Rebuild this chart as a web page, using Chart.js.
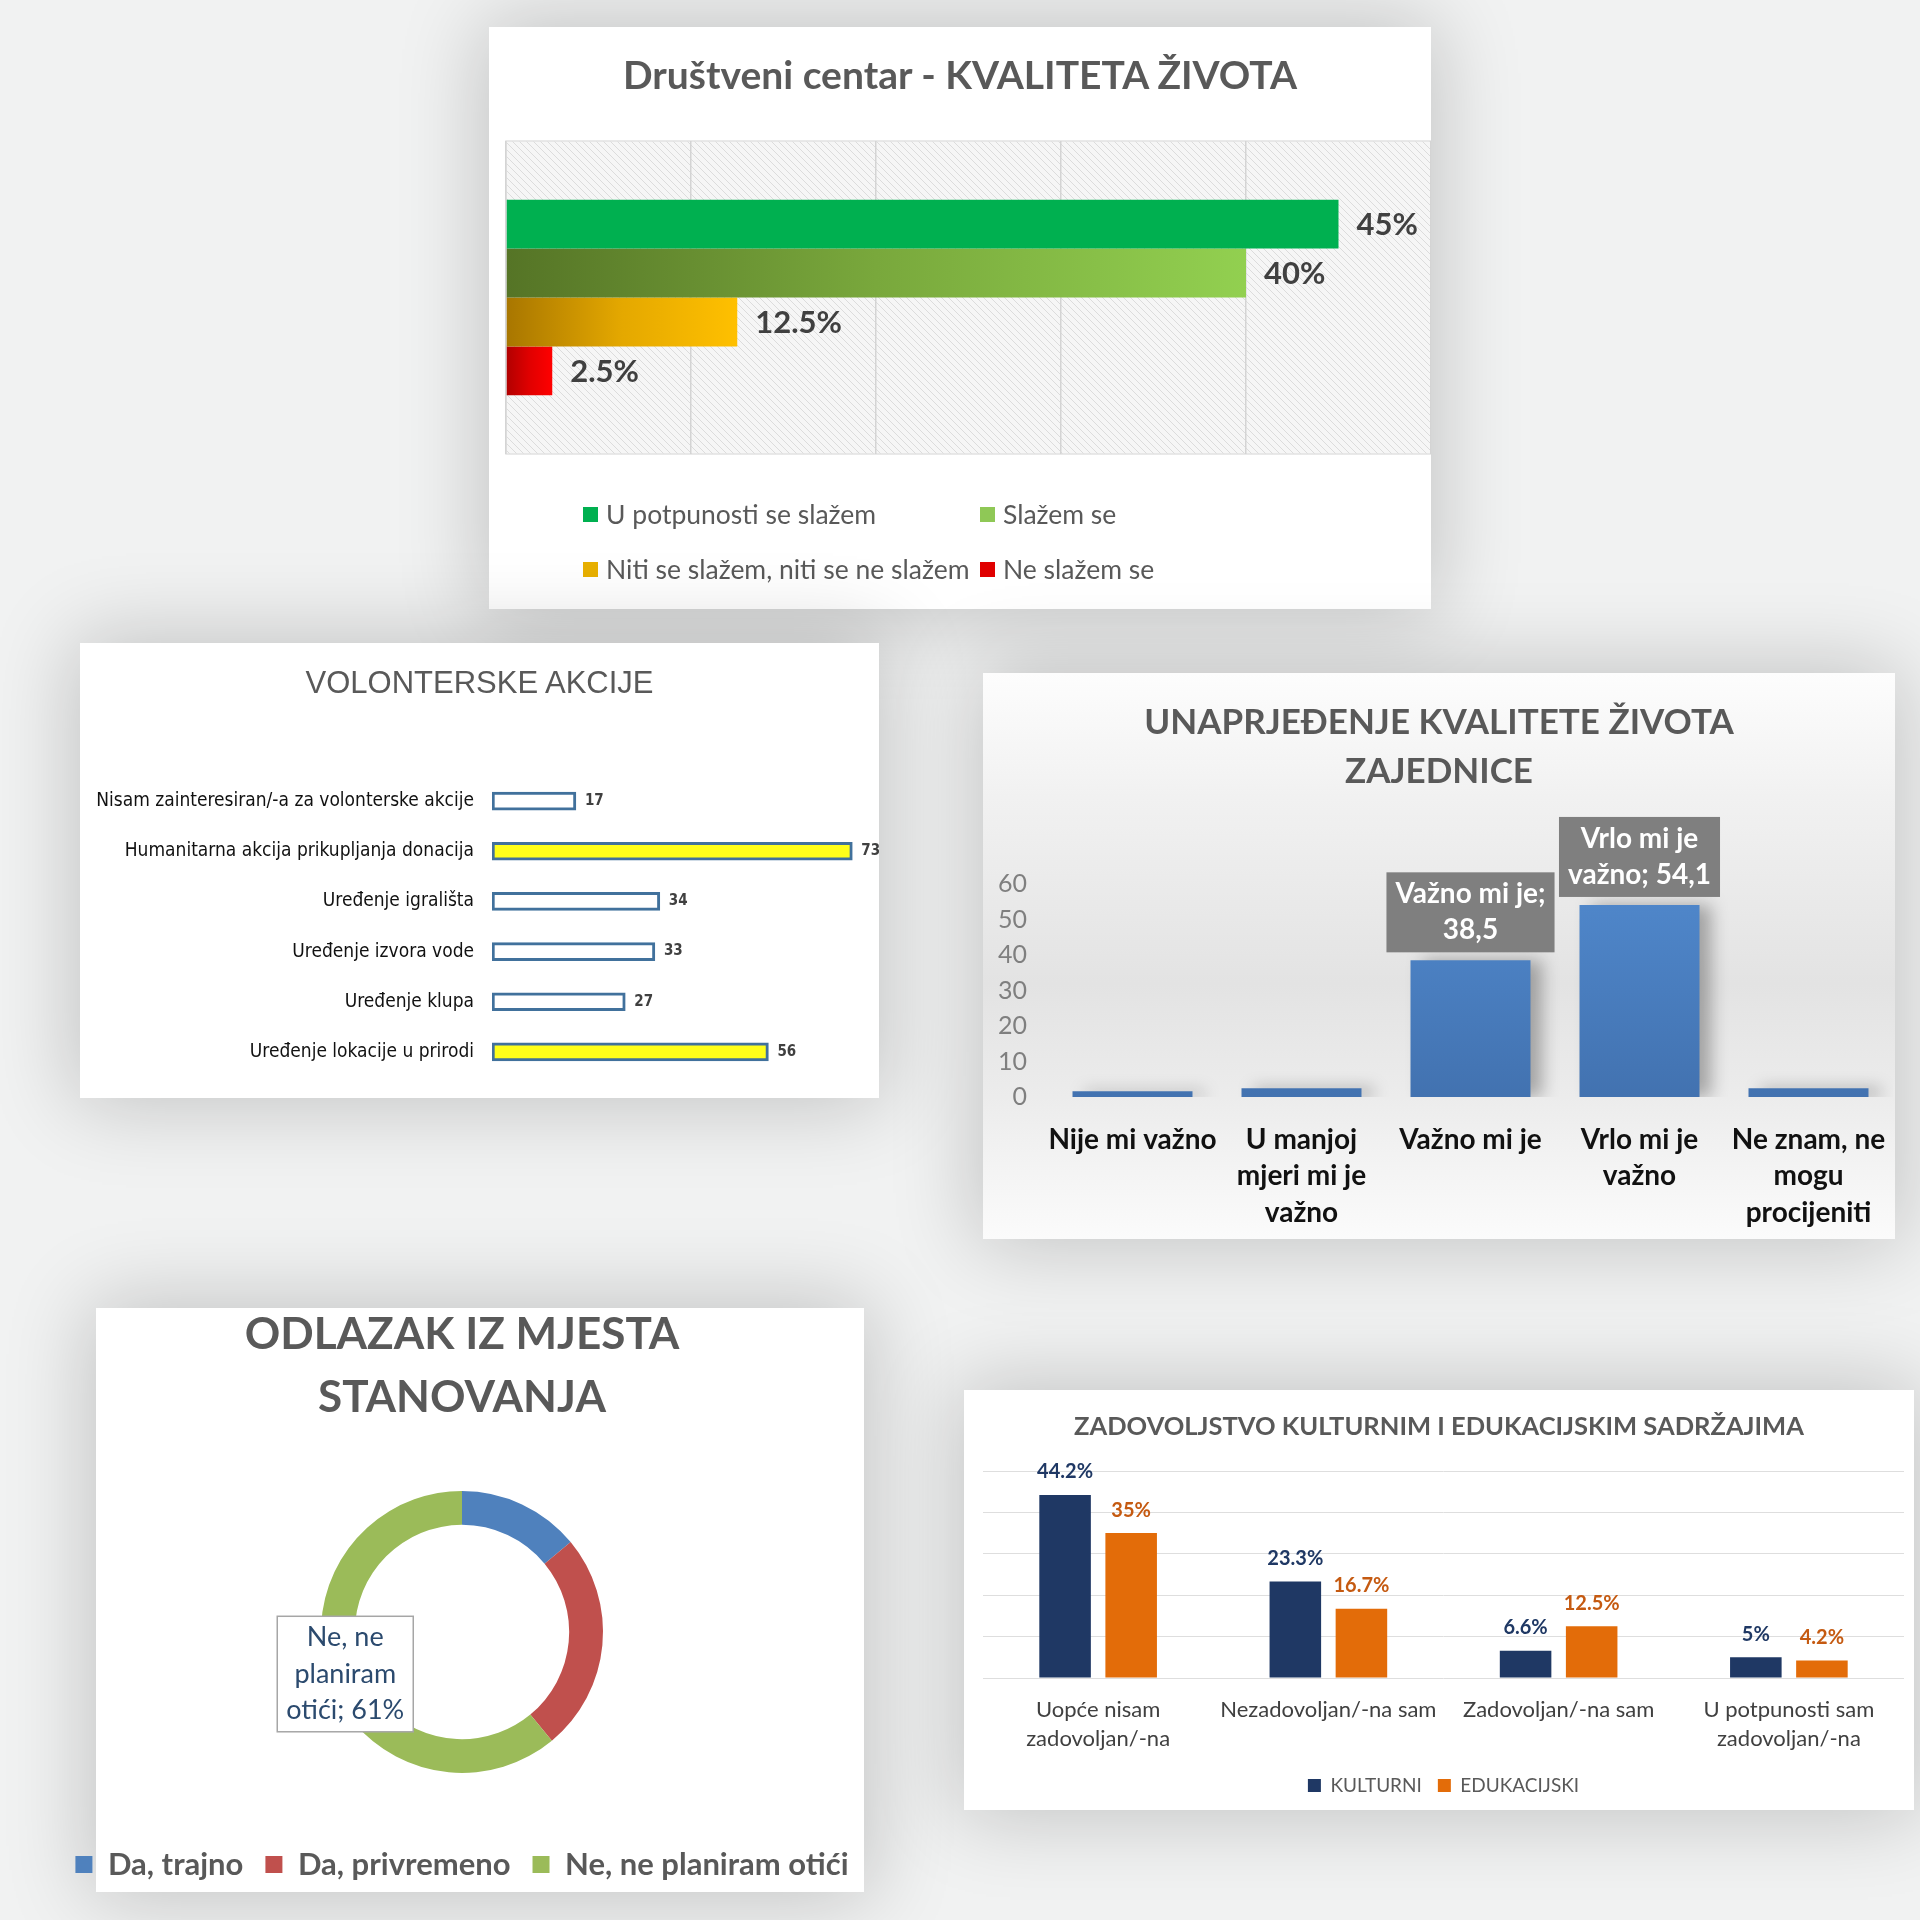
<!DOCTYPE html>
<html lang="hr">
<head>
<meta charset="utf-8">
<title>Ankete</title>
<script src="https://cdn.jsdelivr.net/npm/chart.js@4.4.1/dist/chart.umd.min.js"></script>
<style>
  html, body { margin:0; padding:0; }
  body { width:1920px; height:1920px; position:relative; overflow:hidden; background:#f1f2f2; font-family:Lato, sans-serif; }
  .panel { position:absolute; background:#fff; box-shadow:0 0 80px 6px rgba(0,0,0,0.20); }
  .panel canvas { position:absolute; left:0; top:0; }
  .ttl { position:absolute; left:0; right:0; text-align:center; color:#595959; white-space:nowrap; }
  .leg1 { position:absolute; font-size:26.5px; color:#595959; display:flex; align-items:center; white-space:nowrap; line-height:30px; }
  .leg1 i { display:inline-block; width:15px; height:15px; margin-right:8px; }
  #p3 { background:linear-gradient(180deg,#fdfdfd 0%,#f1f1f1 22%,#e3e3e3 55%,#ececec 75%,#fbfbfb 100%); }
</style>
</head>
<body>

<div class="panel" id="p1" style="left:489px;top:27px;width:942px;height:582px">
  <canvas id="c1" width="942" height="582"></canvas>
  <div class="ttl" style="top:25px;line-height:44px;font-size:39px;font-weight:bold">Društveni centar - KVALITETA ŽIVOTA</div>
  <div id="leg1"></div>
</div>

<div class="panel" id="p2" style="left:80px;top:643px;width:799px;height:455px">
  <canvas id="c2" width="799" height="455"></canvas>
  <div class="ttl" style="top:22px;line-height:36px;font-size:31px;font-family:'Liberation Sans',sans-serif">VOLONTERSKE AKCIJE</div>
</div>

<div class="panel" id="p3" style="left:983px;top:673px;width:912px;height:566px">
  <canvas id="c3" width="912" height="566"></canvas>
  <div class="ttl" style="top:23px;line-height:49px;font-size:35px;font-weight:bold">UNAPRJEĐENJE KVALITETE ŽIVOTA<br>ZAJEDNICE</div>
</div>

<div class="panel" id="p4" style="left:96px;top:1308px;width:768px;height:584px">
  <canvas id="c4" width="888" height="584" style="left:-60px"></canvas>
  <div class="ttl" style="top:-7px;right:36px;line-height:63px;font-size:44px;font-weight:bold">ODLAZAK IZ MJESTA<br>STANOVANJA</div>
</div>

<div class="panel" id="p5" style="left:964px;top:1390px;width:950px;height:420px">
  <canvas id="c5" width="950" height="420"></canvas>
  <div class="ttl" style="top:20px;line-height:30px;font-size:25.5px;font-weight:bold">ZADOVOLJSTVO KULTURNIM I EDUKACIJSKIM SADRŽAJIMA</div>
</div>

<script>
// ---------- DATA ----------
const kvalLabels = ['U potpunosti se slažem', 'Slažem se', 'Niti se slažem, niti se ne slažem', 'Ne slažem se'];
const kvalValues = [45, 40, 12.5, 2.5];

const volCategories = ['Nisam zainteresiran/-a za volonterske akcije', 'Humanitarna akcija prikupljanja donacija',
  'Uređenje igrališta', 'Uređenje izvora vode', 'Uređenje klupa', 'Uređenje lokacije u prirodi'];
const volValues = [17, 73, 34, 33, 27, 56];

const unapCategories = [['Nije mi važno'], ['U manjoj', 'mjeri mi je', 'važno'], ['Važno mi je'], ['Vrlo mi je', 'važno'], ['Ne znam, ne', 'mogu', 'procijeniti']];
const unapValues = [1.6, 2.5, 38.5, 54.1, 2.5];

const odlLabels = ['Da, trajno', 'Da, privremeno', 'Ne, ne planiram otići'];
const odlValues = [14, 25, 61];

const zadCategories = [['Uopće nisam', 'zadovoljan/-na'], ['Nezadovoljan/-na sam'], ['Zadovoljan/-na sam'], ['U potpunosti sam', 'zadovoljan/-na']];
const zadSeries = ['KULTURNI', 'EDUKACIJSKI'];
const zadKulturni = [44.2, 23.3, 6.6, 5];
const zadEdukacijski = [35, 16.7, 12.5, 4.2];

// ---------- STYLE ----------
Chart.defaults.font.family = 'Lato, sans-serif';
Chart.defaults.color = '#595959';
Chart.defaults.animation = false;
Chart.defaults.plugins.legend.display = false;
Chart.defaults.plugins.tooltip.enabled = false;

const narrow = "'DejaVu Sans Condensed', 'Liberation Sans', sans-serif";
const kvalColors = [['#00B050', '#00B050', '#00B050'], ['#557426', '#79a83c', '#92D050'], ['#a87600', '#e4a800', '#FFC000'], ['#b00000', '#e00000', '#FF0000']];
const kvalSwatch = ['#00B050', '#8fc856', '#e8b000', '#E00000'];

function wrapWords(ctx, text, maxW){
  const out = []; let cur = '';
  text.split(' ').forEach(w => {
    const t = cur ? cur + ' ' + w : w;
    if (cur && ctx.measureText(t).width > maxW) { out.push(cur); cur = w; } else cur = t;
  });
  if (cur) out.push(cur);
  return out;
}
const comma = v => String(v).replace('.', ',');
// category axes: keep the plot edge where the layout puts it, even with wide edge labels
const noEdgePad = s => { s.paddingLeft = 0; s.paddingRight = 0; };

// ---------- 1. Društveni centar ----------
function kvalGradient(i){
  return ctx => {
    const chart = ctx.chart, a = chart.chartArea;
    if (!a || ctx.raw == null) return kvalColors[i][2];
    const right = chart.scales.x.getPixelForValue(ctx.raw);
    const g = chart.ctx.createLinearGradient(a.left, 0, right, 0);
    g.addColorStop(0, kvalColors[i][0]); g.addColorStop(0.5, kvalColors[i][1]); g.addColorStop(1, kvalColors[i][2]);
    return g;
  };
}
const hatchBg = {
  id: 'hatchBg',
  beforeDraw(chart){
    const {ctx, chartArea:a} = chart;
    const t = document.createElement('canvas'); t.width = t.height = 7;
    const g = t.getContext('2d');
    g.fillStyle = '#f6f6f6'; g.fillRect(0, 0, 7, 7);
    g.strokeStyle = '#dcdcdc'; g.lineWidth = 1;
    g.beginPath(); g.moveTo(0, 0); g.lineTo(7, 7); g.moveTo(-1, 6); g.lineTo(1, 8); g.moveTo(6, -1); g.lineTo(8, 1); g.stroke();
    ctx.save();
    ctx.fillStyle = ctx.createPattern(t, 'repeat');
    ctx.fillRect(a.left, a.top, a.right - a.left, a.bottom - a.top);
    ctx.strokeStyle = '#e2e2e2'; ctx.lineWidth = 1.5;
    ctx.strokeRect(a.left, a.top, a.right - a.left, a.bottom - a.top);
    ctx.restore();
  }
};
new Chart(document.getElementById('c1'), {
  type: 'bar',
  data: {
    labels: [''],
    datasets: kvalLabels.map((l, i) => ({ label: l, data: [kvalValues[i]], backgroundColor: kvalGradient(i), barPercentage: 1, categoryPercentage: 0.625 }))
  },
  options: {
    responsive: false, indexAxis: 'y',
    layout: { padding: { left: 17, right: 0, top: 114, bottom: 155 } },
    scales: {
      x: { min: 0, max: 50, ticks: { display: false, stepSize: 10 }, grid: { color: '#d4d4d4', lineWidth: 1.5, drawTicks: false }, border: { display: false } },
      y: { display: false }
    }
  },
  plugins: [hatchBg, {
    id: 'kvalLabels',
    afterDatasetsDraw(chart){
      const ctx = chart.ctx;
      ctx.save();
      ctx.font = 'bold 31px Lato'; ctx.fillStyle = '#404040'; ctx.textBaseline = 'middle';
      chart.data.datasets.forEach((ds, di) => {
        chart.getDatasetMeta(di).data.forEach((el, i) => ctx.fillText(ds.data[i] + '%', el.x + 18, el.y + 1));
      });
      ctx.restore();
    }
  }]
});
// legend in two aligned columns
const leg1 = document.getElementById('leg1');
kvalLabels.forEach((l, i) => {
  const d = document.createElement('div');
  d.className = 'leg1';
  d.style.left = (i % 2 ? 491 : 94) + 'px';
  d.style.top = (i < 2 ? 472 : 527) + 'px';
  d.innerHTML = '<i style="background:' + kvalSwatch[i] + '"></i>' + l;
  leg1.appendChild(d);
});

// ---------- 2. Volonterske akcije ----------
new Chart(document.getElementById('c2'), {
  type: 'bar',
  data: {
    labels: volCategories,
    datasets: [{ data: volValues, backgroundColor: ctx => ctx.raw > 50 ? '#FFFF1a' : '#FFFFFF', borderColor: '#41719C', borderWidth: 3, borderSkipped: false, barThickness: 18 }]
  },
  options: {
    responsive: false, indexAxis: 'y',
    layout: { padding: { left: 14, right: 2, top: 133, bottom: 21 } },
    scales: {
      x: { display: false, min: 0, max: 78 },
      y: {
        grid: { display: false, drawTicks: false }, border: { display: false },
        ticks: { padding: 18, color: '#111', font: { family: narrow, size: 19 } },
        afterFit(s){ s.width = 398; s.paddingTop = 0; s.paddingBottom = 0; }
      }
    }
  },
  plugins: [{
    id: 'volLabels',
    afterDatasetsDraw(chart){
      const ctx = chart.ctx;
      ctx.save();
      ctx.font = 'bold 15px ' + narrow; ctx.fillStyle = '#404040'; ctx.textBaseline = 'middle';
      chart.getDatasetMeta(0).data.forEach((el, i) => ctx.fillText(String(volValues[i]), el.x + 9, el.y));
      ctx.restore();
    }
  }]
});

// ---------- 3. Unaprjeđenje kvalitete života zajednice ----------
new Chart(document.getElementById('c3'), {
  type: 'bar',
  data: {
    labels: unapCategories,
    datasets: [{
      data: unapValues, barPercentage: 0.71, categoryPercentage: 1,
      backgroundColor: ctx => {
        const a = ctx.chart.chartArea;
        if (!a) return '#4A7EC0';
        const g = ctx.chart.ctx.createLinearGradient(0, a.top, 0, a.bottom);
        g.addColorStop(0, '#5088cc'); g.addColorStop(1, '#4272b0');
        return g;
      }
    }]
  },
  options: {
    responsive: false,
    layout: { padding: { left: 10, right: 2, top: 211, bottom: 7 } },
    scales: {
      y: {
        min: 0, max: 60, ticks: { stepSize: 10, padding: 21, color: '#7f7f7f', font: { size: 25 } },
        grid: { display: false, drawTicks: false }, border: { display: false },
        afterFit(s){ s.width = 55; }
      },
      x: {
        grid: { display: false, drawTicks: false }, border: { display: false },
        ticks: { padding: 24, color: '#111', font: { size: 28, weight: 'bold', lineHeight: 1.32 }, maxRotation: 0, autoSkip: false },
        afterFit(s){ s.height = 135; noEdgePad(s); }
      }
    }
  },
  plugins: [{
    id: 'unapShadow',
    beforeDatasetsDraw(chart){
      const ctx = chart.ctx;
      ctx.save();
      ctx.shadowColor = 'rgba(0,0,0,0.30)'; ctx.shadowBlur = 16; ctx.shadowOffsetX = 12; ctx.shadowOffsetY = 0;
    },
    afterDatasetsDraw(chart){
      const ctx = chart.ctx;
      ctx.restore();
      ctx.save();
      ctx.font = 'bold 28px Lato'; ctx.textAlign = 'center'; ctx.textBaseline = 'middle';
      chart.getDatasetMeta(0).data.forEach((el, i) => {
        if (unapValues[i] < 10) return;
        const lines = wrapWords(ctx, unapCategories[i].join(' ') + '; ' + comma(unapValues[i]), 175);
        const w = Math.max(...lines.map(l => ctx.measureText(l).width)) + 18;
        const lh = 36, h = lines.length * lh + 8;
        const bottom = el.y - 8;
        ctx.fillStyle = '#7f7f7f';
        ctx.fillRect(el.x - w / 2, bottom - h, w, h);
        ctx.fillStyle = '#ffffff';
        lines.forEach((l, k) => ctx.fillText(l, el.x, bottom - h + 4 + lh * (k + 0.5)));
      });
      ctx.restore();
    }
  }]
});

// ---------- 4. Odlazak iz mjesta stanovanja ----------
new Chart(document.getElementById('c4'), {
  type: 'doughnut',
  data: {
    labels: odlLabels,
    datasets: [{ data: odlValues, backgroundColor: ['#4F81BD', '#C0504D', '#9BBB59'], borderWidth: 0 }]
  },
  options: {
    responsive: false, cutout: '76%', radius: 141,
    layout: { padding: { left: 0, right: 36, top: 129, bottom: 2 } },
    plugins: {
      legend: {
        display: true, position: 'bottom',
        labels: { font: { size: 31, weight: 'bold' }, color: '#595959', boxWidth: 17, boxHeight: 17, padding: 22 }
      }
    }
  },
  plugins: [{
    id: 'odlCallout',
    afterDatasetsDraw(chart){
      const ctx = chart.ctx;
      const big = odlValues.indexOf(Math.max(...odlValues));
      const el = chart.getDatasetMeta(0).data[big];
      const p = el.tooltipPosition();
      ctx.save();
      ctx.font = '27px Lato'; ctx.textAlign = 'center'; ctx.textBaseline = 'middle';
      const lines = wrapWords(ctx, odlLabels[big] + '; ' + odlValues[big] + '%', 125);
      const w = Math.max(...lines.map(l => ctx.measureText(l).width)) + 18;
      const lh = 36.5, h = lines.length * lh + 6;
      ctx.fillStyle = '#ffffff'; ctx.strokeStyle = '#a6a6a6'; ctx.lineWidth = 1.5;
      ctx.fillRect(p.x - w / 2, p.y - h / 2, w, h);
      ctx.strokeRect(p.x - w / 2, p.y - h / 2, w, h);
      ctx.fillStyle = '#2b4a6e';
      lines.forEach((l, k) => ctx.fillText(l, p.x, p.y - h / 2 + 3 + lh * (k + 0.5)));
      ctx.restore();
    }
  }]
});

// ---------- 5. Zadovoljstvo kulturnim i edukacijskim sadržajima ----------
const zadColors = ['#1F3864', '#E36C09'];
const zadLabelColors = ['#1F3864', '#C55A11'];
new Chart(document.getElementById('c5'), {
  type: 'bar',
  data: {
    labels: zadCategories,
    datasets: [
      { label: zadSeries[0], data: zadKulturni, backgroundColor: zadColors[0], categoryPercentage: 0.574, barPercentage: 0.78 },
      { label: zadSeries[1], data: zadEdukacijski, backgroundColor: zadColors[1], categoryPercentage: 0.574, barPercentage: 0.78 }
    ]
  },
  options: {
    responsive: false,
    layout: { padding: { left: 19, right: 10, top: 81, bottom: 5 } },
    scales: {
      y: {
        min: 0, max: 50, ticks: { display: false, stepSize: 10 },
        grid: { color: '#dedede', drawTicks: false }, border: { display: false },
        afterFit(s){ s.width = 0; }
      },
      x: {
        grid: { display: false, drawTicks: false }, border: { display: false },
        ticks: { padding: 17, color: '#404040', font: { size: 22, lineHeight: 1.32 }, maxRotation: 0, autoSkip: false },
        afterFit(s){ s.height = 82; noEdgePad(s); }
      }
    },
    plugins: {
      legend: {
        display: true, position: 'bottom',
        labels: { font: { size: 19 }, color: '#595959', boxWidth: 13, boxHeight: 13, padding: 16 }
      }
    }
  },
  plugins: [{
    id: 'zadLabels',
    afterDatasetsDraw(chart){
      const ctx = chart.ctx;
      ctx.save();
      ctx.font = 'bold 20px Lato'; ctx.textAlign = 'center'; ctx.textBaseline = 'middle';
      chart.data.datasets.forEach((ds, di) => {
        ctx.fillStyle = zadLabelColors[di];
        chart.getDatasetMeta(di).data.forEach((el, i) => ctx.fillText(ds.data[i] + '%', el.x, el.y - 23));
      });
      ctx.restore();
    }
  }]
});
</script>
</body>
</html>
